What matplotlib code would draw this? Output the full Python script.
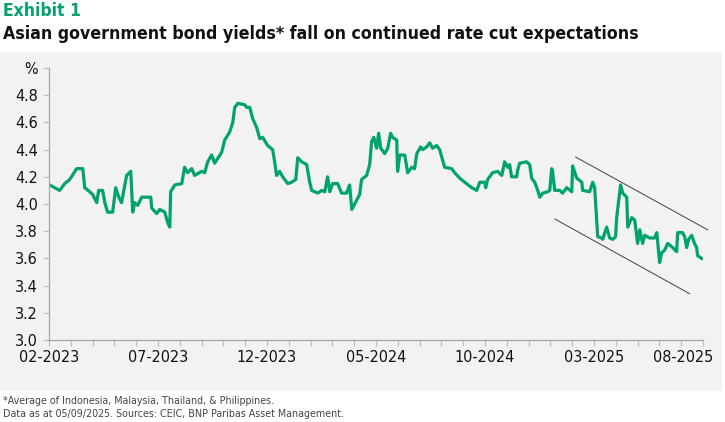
import matplotlib
matplotlib.use("Agg")
import matplotlib.pyplot as plt
from matplotlib.patches import Rectangle
from matplotlib.ticker import MultipleLocator
from matplotlib.transforms import ScaledTranslation

# months since 02-2023 and average yield (%)
months = [
    0.03, 0.26, 0.49, 0.72, 0.95, 1.27, 1.55, 1.64, 1.87, 2.00,
    2.19, 2.28, 2.46, 2.56, 2.69, 2.92, 3.06, 3.20, 3.33, 3.56,
    3.75, 3.84, 3.93, 4.07, 4.25, 4.67, 4.71, 4.94, 5.08, 5.31,
    5.45, 5.54, 5.58, 5.77, 6.09, 6.22, 6.36, 6.55, 6.68, 7.00,
    7.14, 7.28, 7.46, 7.60, 7.92, 8.06, 8.29, 8.43, 8.52, 8.66,
    8.98, 9.07, 9.21, 9.34, 9.53, 9.67, 9.80, 10.03, 10.26, 10.35,
    10.44, 10.58, 10.72, 10.95, 11.13, 11.32, 11.41, 11.59, 11.82, 11.96,
    12.05, 12.33, 12.51, 12.65, 12.78, 12.88, 13.01, 13.24, 13.42, 13.65,
    13.79, 13.89, 14.12, 14.25, 14.34, 14.57, 14.71, 14.80, 14.90, 15.03,
    15.12, 15.22, 15.40, 15.54, 15.67, 15.76, 15.95, 15.99, 16.09, 16.32,
    16.45, 16.64, 16.77, 16.87, 17.05, 17.14, 17.33, 17.46, 17.60, 17.78,
    17.92, 18.15, 18.47, 18.61, 18.84, 19.07, 19.39, 19.62, 19.76, 19.99,
    20.03, 20.12, 20.35, 20.58, 20.77, 20.90, 21.04, 21.13, 21.22, 21.45,
    21.50, 21.59, 21.91, 22.05, 22.14, 22.28, 22.42, 22.51, 22.65, 22.88,
    22.97, 23.06, 23.10, 23.20, 23.43, 23.56, 23.75, 23.98, 24.02, 24.21,
    24.44, 24.48, 24.80, 24.94, 25.03, 25.17, 25.35, 25.40, 25.58, 25.72,
    25.86, 25.99, 26.04, 26.22, 26.32, 26.50, 26.55, 26.73, 26.87, 27.00,
    27.10, 27.23, 27.33, 27.55, 27.78, 27.88, 28.01, 28.10, 28.24, 28.38,
    28.61, 28.79, 28.84, 29.06, 29.16, 29.25, 29.34, 29.48, 29.61, 29.71,
    29.75, 29.94,
]
yields = [
    4.14, 4.12, 4.10, 4.15, 4.18, 4.26, 4.26, 4.12, 4.09, 4.07,
    4.01, 4.10, 4.10, 4.01, 3.94, 3.94, 4.12, 4.05, 4.01, 4.21,
    4.24, 3.94, 4.01, 3.99, 4.05, 4.05, 3.97, 3.93, 3.96, 3.94,
    3.86, 3.83, 4.09, 4.14, 4.15, 4.27, 4.23, 4.26, 4.21, 4.24,
    4.23, 4.31, 4.36, 4.30, 4.38, 4.47, 4.53, 4.60, 4.71, 4.74,
    4.73, 4.71, 4.71, 4.63, 4.56, 4.48, 4.49, 4.43, 4.40, 4.31,
    4.21, 4.24, 4.20, 4.15, 4.16, 4.18, 4.34, 4.31, 4.29, 4.16,
    4.10, 4.08, 4.10, 4.09, 4.20, 4.09, 4.15, 4.15, 4.08, 4.08,
    4.14, 3.96, 4.03, 4.07, 4.18, 4.21, 4.29, 4.46, 4.49, 4.41,
    4.52, 4.41, 4.37, 4.41, 4.52, 4.49, 4.47, 4.24, 4.36, 4.36,
    4.23, 4.27, 4.26, 4.37, 4.42, 4.40, 4.42, 4.45, 4.41, 4.43,
    4.40, 4.27, 4.26, 4.23, 4.19, 4.16, 4.12, 4.10, 4.16, 4.16,
    4.12, 4.18, 4.23, 4.24, 4.21, 4.31, 4.27, 4.29, 4.20, 4.20,
    4.25, 4.30, 4.31, 4.29, 4.19, 4.16, 4.10, 4.05, 4.08, 4.09,
    4.10, 4.26, 4.24, 4.10, 4.10, 4.08, 4.12, 4.09, 4.28, 4.19,
    4.16, 4.10, 4.09, 4.16, 4.12, 3.76, 3.75, 3.74, 3.83, 3.75,
    3.74, 3.76, 3.90, 4.14, 4.08, 4.05, 3.83, 3.90, 3.88, 3.71,
    3.81, 3.71, 3.77, 3.75, 3.75, 3.79, 3.57, 3.64, 3.66, 3.71,
    3.68, 3.65, 3.79, 3.79, 3.76, 3.68, 3.74, 3.77, 3.71, 3.68,
    3.62, 3.60,
]

tick_months = [0, 5, 10, 15, 20, 25, 30]
tick_labels = ["02-2023", "07-2023", "12-2023", "05-2024", "10-2024", "03-2025", "08-2025"]
y_ticks = [3.0, 3.2, 3.4, 3.6, 3.8, 4.0, 4.2, 4.4, 4.6, 4.8, 5.0]
y_labels = ["3.0", "3.2", "3.4", "3.6", "3.8", "4.0", "4.2", "4.4", "4.6", "4.8", "%"]

# downward channel drawn by hand on the original
upper_x = [24.16, 30.22]
upper_y = [4.345, 3.81]
lower_x = [23.20, 29.39]
lower_y = [3.89, 3.34]

GREEN = "#00a36c"
PANEL = "#f2f2f2"
FONT = ["DejaVu Sans"]

fig = plt.figure(figsize=(7.25, 4.22), dpi=100)
fig.patches.append(Rectangle((0, 1 - 391 / 422), 722 / 725, 339 / 422,
                             transform=fig.transFigure, facecolor=PANEL,
                             edgecolor="none", zorder=-5))

ax = fig.add_axes([49 / 725, 1 - 340 / 422, 654 / 725, 272 / 422])
ax.set_zorder(2)
ax.set_facecolor(PANEL)
ax.plot(months, yields, color=GREEN, lw=2.3, solid_joinstyle="round")
ax.plot(upper_x, upper_y, color="#404040", lw=0.7, clip_on=False)
ax.plot(lower_x, lower_y, color="#404040", lw=0.7, clip_on=False)

ax.set_xlim(0, 30)
ax.set_ylim(3.0, 5.0)
ax.set_xticks(tick_months)
ax.set_xticklabels(tick_labels)
ax.xaxis.set_minor_locator(MultipleLocator(1))
ax.set_yticks(y_ticks)
ax.set_yticklabels(y_labels)

for side in ["top", "right"]:
    ax.spines[side].set_visible(False)
for side in ["left", "bottom"]:
    ax.spines[side].set_color("#a6a6a6")
    ax.spines[side].set_linewidth(0.9)
ax.tick_params(axis="both", which="both", color="#bfbfbf", width=0.9, length=4,
               labelsize=11.5, labelcolor="#111111")
ax.tick_params(axis="x", pad=3)
ax.tick_params(axis="y", pad=4)
for lab in ax.get_xticklabels() + ax.get_yticklabels():
    lab.set_family(FONT)
    lab.set_stretch("condensed")

# last date label is pushed left so it stays inside the figure
last = ax.get_xticklabels()[-1]
last.set_horizontalalignment("right")
last.set_transform(last.get_transform() + ScaledTranslation(10 / 100, 0, fig.dpi_scale_trans))

fig.text(0.004, 1 - 11 / 422, "Exhibit 1", color=GREEN, fontsize=12.5,
         fontweight="bold", family=FONT, stretch="condensed", va="center", ha="left")
fig.text(0.004, 1 - 34 / 422,
         "Asian government bond yields* fall on continued rate cut expectations",
         color="#111111", fontsize=12.7, fontweight="bold", family=FONT,
         stretch="condensed", va="center", ha="left")
fig.text(0.004, 1 - 401 / 422, "*Average of Indonesia, Malaysia, Thailand, & Philippines.",
         color="#444444", fontsize=7.7, family=FONT, stretch="condensed",
         va="center", ha="left")
fig.text(0.004, 1 - 414 / 422,
         "Data as at 05/09/2025. Sources: CEIC, BNP Paribas Asset Management.",
         color="#444444", fontsize=7.7, family=FONT, stretch="condensed",
         va="center", ha="left")

fig.savefig("out.png", dpi=100, facecolor="white")
